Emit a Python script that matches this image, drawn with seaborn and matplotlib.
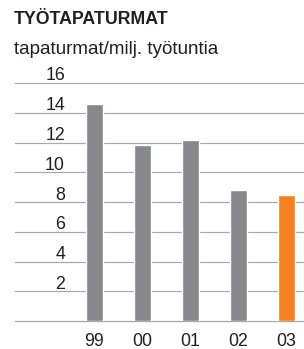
import matplotlib
matplotlib.use("Agg")
import matplotlib.pyplot as plt
import matplotlib.transforms as mtransforms
import seaborn as sns

years = ["99", "00", "01", "02", "03"]
rates = [14.6, 11.8, 12.2, 8.8, 8.5]
bar_colors = ["#87888b", "#87888b", "#87888b", "#87888b", "#f5821f"]
y_ticks = [0, 2, 4, 6, 8, 10, 12, 14, 16]
y_labels = ["", "2", "4", "6", "8", "10", "12", "14", "16"]

sns.set_style("white")
plt.rcParams["font.family"] = ["Liberation Sans", "DejaVu Sans"]

W, H = 304, 349
fs = 12.8
fig = plt.figure(figsize=(W / 100, H / 100), dpi=100)
ax = fig.add_axes([15 / W, (H - 321) / H, (W - 15) / W, (321 - 83) / H])

sns.barplot(x=years, y=rates, hue=years, palette=bar_colors, legend=False,
            width=0.354, saturation=1, ax=ax)

ax.set_xlim(-1.656, 4.365)
ax.set_ylim(0, 16)
ax.set_yticks(y_ticks)
ax.set_yticklabels(y_labels)
ax.grid(axis="y", color="#a9a9a9", linewidth=0.9)
ax.set_axisbelow(True)
for g in ax.get_ygridlines():
    g.set_clip_on(False)
for s in ax.spines.values():
    s.set_visible(False)
ax.tick_params(axis="both", length=0, labelsize=fs, colors="#231f20")
ax.tick_params(axis="y", pad=0)
ax.tick_params(axis="x", pad=9)

# y labels sit above the gridlines, shifted into the plot area
offset = mtransforms.ScaledTranslation(50 / 100, 9 / 100, fig.dpi_scale_trans)
for lab in ax.get_yticklabels():
    lab.set_transform(lab.get_transform() + offset)

fig.text(14 / W, 1 - 19 / H, "TYÖTAPATURMAT", fontsize=fs, fontweight="bold",
         color="#231f20", va="center", ha="left")
fig.text(14 / W, 1 - 50 / H, "tapaturmat/milj. työtuntia", fontsize=13.6,
         color="#231f20", va="center", ha="left")

fig.savefig("out.png", dpi=100)
